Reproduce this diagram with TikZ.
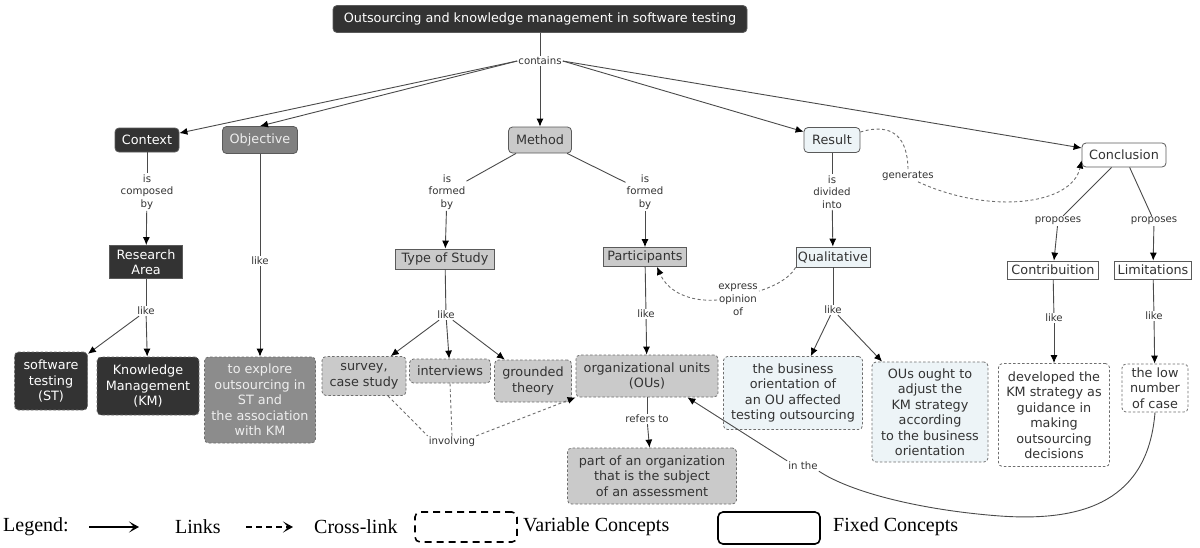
\documentclass[tikz,border=0pt]{standalone}
\usepackage{fontspec}
\setmainfont{DejaVu Sans}
\newfontfamily\legendfont{Liberation Serif}
\usetikzlibrary{arrows.meta}

\definecolor{darkfill}{HTML}{333333}
\definecolor{midfill}{HTML}{808080}
\definecolor{midfillB}{HTML}{8C8C8C}
\definecolor{lightfill}{HTML}{CACACA}
\definecolor{bluefill}{HTML}{EDF4F7}
\definecolor{linkgray}{HTML}{4A4A4A}
\definecolor{bordergray}{HTML}{5A5A5A}
\definecolor{dashgray}{HTML}{6E6E6E}
\definecolor{labeltext}{HTML}{333333}
\definecolor{paletext}{HTML}{EEEEEE}

\tikzset{
  concept/.style={draw=bordergray, line width=0.8pt, align=center, inner sep=0pt,
    font=\fontsize{12.8}{15.5}\selectfont, text=labeltext},
  rnd/.style={rounded corners=4pt},
  varconcept/.style={concept, rounded corners=4pt, draw=dashgray, dash pattern=on 2.5pt off 2pt},
  darkc/.style={fill=darkfill, text=white},
  midc/.style={fill=midfill, text=paletext},
  lightc/.style={fill=lightfill},
  bluec/.style={fill=bluefill},
  whitec/.style={fill=white},
  sz/.style 2 args={minimum width=#1pt, minimum height=#2pt},
  lbl/.style={font=\fontsize{10.2}{12.8}\selectfont, text=labeltext, align=center, inner sep=1pt},
  linkline/.style={draw=linkgray, line width=0.9pt},
  tiphead/.style={-{Latex[length=8pt,width=7pt,color=black]}},
  arr/.style={linkline, tiphead},
  crossline/.style={draw=dashgray, line width=0.9pt, dash pattern=on 3pt off 2.5pt},
  legtxt/.style={font=\legendfont\fontsize{20}{22}\selectfont, anchor=west, inner sep=0pt},
  legline/.style={line width=2pt, -{Stealth[length=10pt,width=11pt,inset=5pt]}},
  legbox/.style={line width=1.6pt, rounded corners=5pt, minimum width=102pt, minimum height=30pt, inner sep=0pt},
}

\begin{document}
\begin{tikzpicture}[x=1pt,y=-1pt]
\useasboundingbox (0,0) rectangle (1200,547);

% ---------- fixed concepts ----------
\node[concept,rnd,darkc,sz={414}{27}] (title) at (540,19) {Outsourcing and knowledge management in software testing};
\node[concept,rnd,darkc,sz={64}{24}] (context) at (147,140) {Context};
\node[concept,rnd,midc,sz={75}{27}] (objective) at (260,140) {Objective};
\node[concept,rnd,lightc,sz={63}{26}] (method) at (540,140) {Method};
\node[concept,rnd,bluec,sz={56}{25}] (result) at (832,140) {Result};
\node[concept,rnd,whitec,sz={84}{24}] (conclusion) at (1124,155) {Conclusion};
\node[concept,darkc,sz={73}{33}] (research) at (146,262) {Research\\Area};
\node[concept,lightc,sz={99}{20}] (typestudy) at (445,259) {Type of Study};
\node[concept,lightc,sz={83}{19}] (participants) at (645,257) {Participants};
\node[concept,bluec,sz={74}{20}] (qualitative) at (833,257) {Qualitative};
\node[concept,whitec,sz={91}{18}] (contrib) at (1053,270) {Contribuition};
\node[concept,whitec,sz={77}{18}] (limits) at (1153,270) {Limitations};

% ---------- variable concepts ----------
\node[varconcept,darkc,sz={73}{58}] (st) at (51,381) {software\\testing\\(ST)};
\node[varconcept,darkc,sz={102}{58}] (km) at (148,386) {Knowledge\\Management\\(KM)};
\node[varconcept,fill=midfillB,text=paletext,sz={111}{86}] (explore) at (260,400) {to explore\\outsourcing in\\ST and\\the association\\with KM};
\node[varconcept,lightc,sz={84}{39}] (survey) at (364,376) {survey,\\case study};
\node[varconcept,lightc,sz={81}{24}] (interviews) at (450,371) {interviews};
\node[varconcept,lightc,sz={77}{42}] (grounded) at (533,381) {grounded\\theory};
\node[varconcept,lightc,sz={142}{42}] (ous) at (647,376) {organizational units\\(OUs)};
\node[varconcept,lightc,sz={169}{56}] (part) at (652,476) {part of an organization\\that is the subject\\of an assessment};
\node[varconcept,bluec,sz={139}{73}] (business) at (793,393) {the business\\orientation of\\an OU affected\\testing outsourcing};
\node[varconcept,bluec,sz={116}{100}] (ought) at (930,412) {OUs ought to\\adjust the\\KM strategy\\according\\to the business\\orientation};
\node[varconcept,whitec,sz={111}{103}] (developed) at (1054,415) {developed the\\KM strategy as\\guidance in\\making\\outsourcing\\decisions};
\node[varconcept,whitec,sz={66}{48}] (lownum) at (1155,388) {the low\\number\\of case};

% ---------- link labels ----------
\node[lbl] (contains) at (540,61) {contains};
\node[lbl] (iscomposed) at (147,192) {is\\composed\\by};
\node[lbl] (likeobj) at (260,261) {like};
\node[lbl] (formedl) at (447,192) {is\\formed\\by};
\node[lbl] (formedr) at (645,192) {is\\formed\\by};
\node[lbl] (divided) at (832,192) {is\\divided\\into};
\node[lbl] (likera) at (146,311) {like};
\node[lbl] (likets) at (446,315) {like};
\node[lbl] (likep) at (646,314) {like};
\node[lbl] (likeq) at (833,310) {like};
\node[lbl] (proposesl) at (1058,221) {proposes};
\node[lbl] (proposesr) at (1154,221) {proposes};
\node[lbl] (likec) at (1054,318) {like};
\node[lbl] (likel) at (1154,316) {like};
\node[lbl] (refers) at (647,419) {refers to};
\node[lbl] (involving) at (452,442) {involving};
\node[lbl] (express) at (738,300) {express\\opinion\\of};
\node[lbl] (generates) at (908,176) {generates};
\node[lbl] (inthe) at (803,466) {in the};

% ---------- links ----------
\draw[linkline] (title) -- (contains);
\draw[arr] (contains.west) -- (context);
\draw[arr] (contains.west) -- (objective.north);
\draw[arr] (contains) -- (method);
\draw[arr] (contains.east) -- (result);
\draw[arr] (contains.east) -- (conclusion);

\draw[linkline] (context) -- (iscomposed);   \draw[arr] (iscomposed) -- (research);
\draw[linkline] (objective) -- (likeobj);    \draw[arr] (likeobj) -- (explore);
\draw[linkline] (method) -- (formedl);       \draw[arr] (formedl) -- (typestudy);
\draw[linkline] (method) -- (formedr);       \draw[arr] (formedr) -- (participants);
\draw[linkline] (result) -- (divided);       \draw[arr] (divided) -- (qualitative);

\draw[linkline] (research) -- (likera);
\draw[arr] (likera) -- (st);
\draw[arr] (likera) -- (km);

\draw[linkline] (typestudy) -- (likets);
\draw[arr] (likets) -- (survey);
\draw[arr] (likets) -- (interviews);
\draw[arr] (likets) -- (grounded);

\draw[linkline] (participants) -- (likep);   \draw[arr] (likep) -- (ous);
\draw[linkline] (ous) -- (refers);           \draw[arr] (refers) -- (part);

\draw[linkline] (qualitative) -- (likeq);
\draw[arr] (likeq) -- (business);
\draw[arr] (likeq) -- (ought);

\draw[linkline] (conclusion) -- (proposesl); \draw[arr] (proposesl) -- (contrib);
\draw[linkline] (conclusion) -- (proposesr); \draw[arr] (proposesr) -- (limits);
\draw[linkline] (contrib) -- (likec);        \draw[arr] (likec) -- (developed);
\draw[linkline] (limits) -- (likel);         \draw[arr] (likel) -- (lownum);

% link from the limitation back to the organizational units
\draw[linkline] (lownum.south) .. controls (1148,500) and (1085,522) .. (1000,516)
  .. controls (920,510) and (850,492) .. (inthe.south east);
\draw[arr] (inthe.north west) -- ([xshift=-31pt]ous.south east);

% ---------- cross-links ----------
\draw[crossline] ([yshift=8pt]result.east) .. controls (893,122) and (908,138) .. (generates.north);
\draw[crossline,tiphead] ([xshift=10pt]generates.south) .. controls (990,215) and (1072,205) .. ([yshift=7pt]conclusion.south west);

\draw[crossline] (qualitative.south west) .. controls (790,278) and (775,286) .. ([yshift=-8pt]express.north east);
\draw[crossline,tiphead] (express.west) .. controls (690,302) and (668,292) .. ([xshift=12pt]participants.south);

\draw[crossline] ([xshift=24pt]survey.south) -- (involving.north west);
\draw[crossline] (interviews.south) -- (involving.north);
\draw[crossline,tiphead] (involving.north east) -- (ous.south west);

% ---------- legend ----------
\node[legtxt] (legend) at (3,527) {Legend:};
\coordinate (solidA) at (89,527);
\coordinate (solidB) at (139,527);
\draw[legline] (solidA) -- (solidB);
\node[legtxt] (links) at (175,527) {Links};
\coordinate (dashA) at (246,527);
\coordinate (dashB) at (293,527);
\draw[legline, dash pattern=on 6pt off 4pt] (dashA) -- (dashB);
\node[legtxt] (crosslink) at (314,527) {Cross-link};
\node[legbox, draw, dash pattern=on 7pt off 5pt] (varbox) at (466,527) {};
\node[legtxt] (varconcepts) at (523,527) {Variable Concepts};
\node[legbox, draw, minimum height=32pt] (fixbox) at (769,528) {};
\node[legtxt] (fixconcepts) at (833,527) {Fixed Concepts};
\end{tikzpicture}
\end{document}
